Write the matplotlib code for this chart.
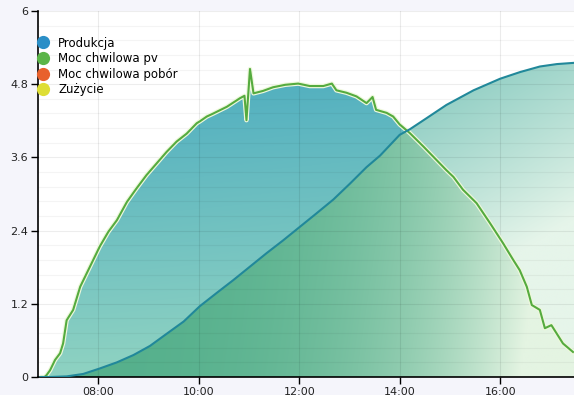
import numpy as np
import matplotlib
matplotlib.use("Agg")
from matplotlib import pyplot as plt
from matplotlib.lines import Line2D
from matplotlib.colors import to_rgb

# godziny (ułamek doby) i moc chwilowa pv [kW]
pv_h = [6.88, 6.93, 6.97, 7.04, 7.14, 7.24, 7.30, 7.37, 7.50, 7.64, 7.77, 7.90,
        8.03, 8.20, 8.37, 8.57, 8.76, 8.96, 9.16, 9.36, 9.56, 9.76, 9.96, 10.02,
        10.16, 10.29, 10.56, 10.82, 10.91, 10.95, 11.02, 11.09, 11.28, 11.48,
        11.72, 11.98, 12.21, 12.48, 12.65, 12.74, 12.94, 13.14, 13.34, 13.46,
        13.53, 13.74, 13.87, 14.00, 14.20, 14.47, 14.73, 14.93, 15.07, 15.26,
        15.53, 15.80, 16.06, 16.26, 16.39, 16.53, 16.63, 16.79, 16.89, 17.02,
        17.25, 17.45]
pv_kw = [0.0, 0.0, 0.03, 0.11, 0.28, 0.39, 0.55, 0.93, 1.10, 1.48, 1.70, 1.92,
         2.14, 2.38, 2.57, 2.87, 3.09, 3.31, 3.50, 3.69, 3.86, 3.99, 4.16, 4.19,
         4.27, 4.32, 4.43, 4.57, 4.61, 4.21, 5.05, 4.65, 4.69, 4.75,
         4.79, 4.81, 4.77, 4.77, 4.81, 4.70, 4.66, 4.60, 4.49, 4.59,
         4.38, 4.33, 4.27, 4.14, 4.00, 3.78, 3.56, 3.39, 3.28, 3.07,
         2.85, 2.52, 2.19, 1.92, 1.75, 1.48, 1.18, 1.10, 0.80, 0.85,
         0.55, 0.41]

# produkcja narastająco [kWh]
prod_h = [6.85, 7.04, 7.37, 7.70, 8.03, 8.37, 8.70, 9.03, 9.33, 9.70, 10.02,
          10.36, 10.69, 11.02, 11.35, 11.68, 12.01, 12.34, 12.68, 13.01, 13.34,
          13.61, 14.00, 14.20, 14.53, 14.93, 15.47, 16.00, 16.40, 16.79, 17.13,
          17.47]
prod_kwh = [0.0, 0.0, 0.01, 0.05, 0.14, 0.24, 0.36, 0.51, 0.69, 0.91, 1.16,
            1.38, 1.59, 1.81, 2.03, 2.24, 2.46, 2.68, 2.91, 3.17, 3.44,
            3.63, 3.97, 4.06, 4.24, 4.46, 4.70, 4.89, 5.00, 5.09, 5.13,
            5.15]

x_ticks = [8, 10, 12, 14, 16]
x_labels = ["08:00", "10:00", "12:00", "14:00", "16:00"]
y_ticks = [0, 1.2, 2.4, 3.6, 4.8, 6]
y_labels = ["0", "1.2", "2.4", "3.6", "4.8", "6"]

legend_names = ["Produkcja", "Moc chwilowa pv", "Moc chwilowa pobór", "Zużycie"]
legend_colors = ["#2b8fc7", "#5bb548", "#e8612c", "#dede35"]

X0, X1 = 6.80, 17.47


def gradient(c0, c1, fx, fy, power=1.0):
    xs = np.linspace(0, 1, 300)
    ys = np.linspace(0, 1, 300)
    gx, gy = np.meshgrid(xs, ys)
    s = np.clip(fx * gx + fy * (1 - gy), 0, 1) ** power
    a = np.array(to_rgb(c0))
    b = np.array(to_rgb(c1))
    return (1 - s)[..., None] * a + s[..., None] * b


def clipped_image(ax, img, poly, z):
    im = ax.imshow(img, origin="lower", extent=(X0, X1, 0, 6), aspect="auto",
                   interpolation="bilinear", zorder=z)
    im.set_clip_path(poly.get_paths()[0], transform=ax.transData)
    return im


fig = plt.figure(figsize=(5.74, 3.95), dpi=100, facecolor="#f5f5fb")
ax = fig.add_axes([38 / 574, 18 / 395, 536 / 574, 366 / 395])
ax.set_facecolor("white")
ax.set_xlim(X0, X1)
ax.set_ylim(0, 6)

# obszary wypełnień
pv_poly = ax.fill_between(pv_h, pv_kw, 0, facecolor="none", edgecolor="none")
prod_poly = ax.fill_between(prod_h, prod_kwh, 0, facecolor="none", edgecolor="none")
xx = np.linspace(X0, X1, 800)
both = np.minimum(np.interp(xx, pv_h, pv_kw, left=0, right=pv_kw[-1]),
                  np.interp(xx, prod_h, prod_kwh, left=0, right=prod_kwh[-1]))
both_poly = ax.fill_between(xx, both, 0, facecolor="none", edgecolor="none")

clipped_image(ax, gradient("#3ea4bf", "#8ed2c2", 0.15, 1.0, 1.0), pv_poly, 1.0)
clipped_image(ax, gradient("#4eb0a6", "#e6f5ea", 0.6, 0.7, 1.6), prod_poly, 1.1)
clipped_image(ax, gradient("#55b08c", "#e4f4e2", 1.0, 0.1, 3.5), both_poly, 1.2)

# siatka
ax.set_yticks(np.arange(0, 6.01, 0.24), minor=True)
ax.grid(which="minor", axis="y", color="k", alpha=0.045, lw=0.8)
ax.grid(which="major", axis="y", color="k", alpha=0.07, lw=0.8)
ax.grid(which="major", axis="x", color="k", alpha=0.08, lw=0.8)
ax.set_axisbelow(False)

ax.plot(pv_h, pv_kw, color="#eef8dc", lw=3.2, zorder=3, solid_joinstyle="round")
ax.plot(pv_h, pv_kw, color="#55ab3f", lw=1.5, zorder=4, solid_joinstyle="round")
ax.plot(prod_h, prod_kwh, color="#21889a", lw=1.5, zorder=4)

ax.set_xticks(x_ticks)
ax.set_xticklabels(x_labels)
ax.set_yticks(y_ticks)
ax.set_yticklabels(y_labels)
ax.tick_params(which="major", direction="out", length=5, width=1, color="black",
               labelsize=8, labelcolor="#222222", pad=2)
ax.tick_params(which="minor", length=0)
for s in ["top", "right"]:
    ax.spines[s].set_visible(False)
for s in ["left", "bottom"]:
    ax.spines[s].set_color("black")
    ax.spines[s].set_linewidth(1.2)

handles = [Line2D([], [], marker="o", ls="none", markersize=9.5, color=c,
                  markeredgewidth=0) for c in legend_colors]
ax.legend(handles, legend_names, loc="upper left", bbox_to_anchor=(0.0, 0.93),
          frameon=False, fontsize=8.5, handlelength=0.8, handletextpad=0.9,
          labelspacing=0.22, borderaxespad=0, borderpad=0)

fig.savefig("out.png", dpi=100, facecolor=fig.get_facecolor())
